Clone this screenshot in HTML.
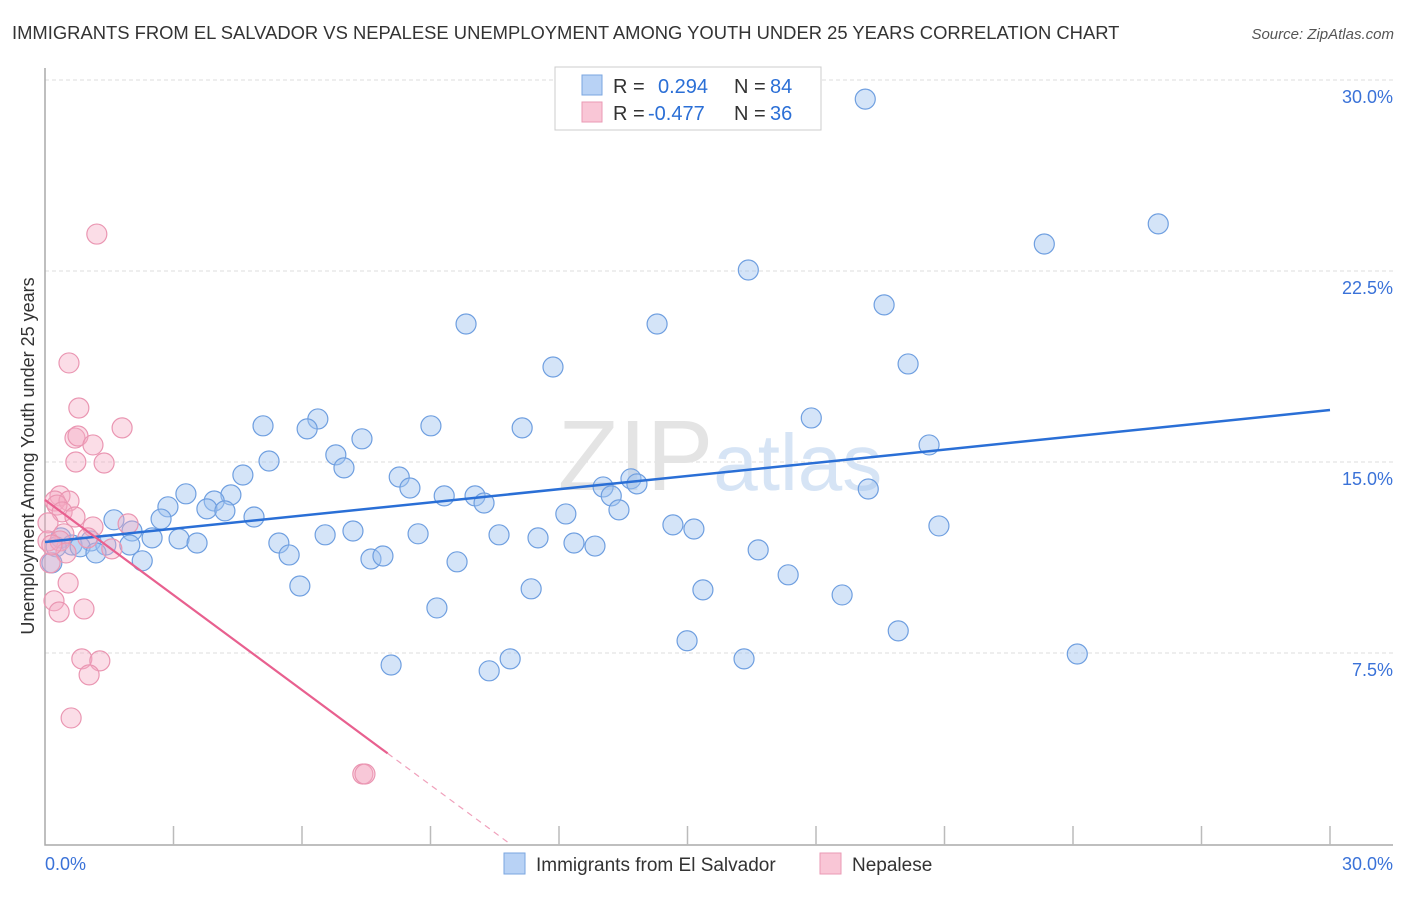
<!DOCTYPE html>
<html><head><meta charset="utf-8"><style>
body{margin:0;background:#fff;font-family:"Liberation Sans",sans-serif;}
svg text{font-family:"Liberation Sans",sans-serif;}
</style></head><body>
<svg id="chart" width="1406" height="892" xmlns="http://www.w3.org/2000/svg">
<text x="12" y="39" font-size="18.4" fill="#333">IMMIGRANTS FROM EL SALVADOR VS NEPALESE UNEMPLOYMENT AMONG YOUTH UNDER 25 YEARS CORRELATION CHART</text>
<text x="1394" y="39" font-size="15" fill="#555" text-anchor="end" font-style="italic">Source: ZipAtlas.com</text>
<g id="grid"></g>
<text x="720" y="490" font-size="100" text-anchor="middle" fill="#e4e4e4" font-family="Liberation Serif">ZIP<tspan fill="#d6e4f5" font-family="Liberation Sans" font-size="80">atlas</tspan></text>
<g id="pts"></g>
<g id="lines"></g>
<text transform="translate(34,456) rotate(-90)" font-size="18" fill="#333" text-anchor="middle">Unemployment Among Youth under 25 years</text>
<g>
<rect x="555" y="67" width="266" height="63" fill="#fff" stroke="#ccc"/>
<rect x="582" y="75" width="20" height="20" fill="#b8d2f5" stroke="#7aa6e0"/>
<rect x="582" y="102" width="20" height="20" fill="#f9c6d6" stroke="#ea9ab4"/>
<text x="613" y="93" font-size="20" fill="#333">R = <tspan fill="#2b6fd6" x="658">0.294</tspan><tspan x="734" fill="#333">N = </tspan><tspan fill="#2b6fd6" x="770">84</tspan></text>
<text x="613" y="120" font-size="20" fill="#333">R = <tspan fill="#2b6fd6" x="648">-0.477</tspan><tspan x="734" fill="#333">N = </tspan><tspan fill="#2b6fd6" x="770">36</tspan></text>
</g>
<g>
<rect x="504" y="853" width="21" height="21" fill="#b8d2f5" stroke="#7aa6e0"/>
<text x="536" y="871" font-size="19" fill="#333">Immigrants from El Salvador</text>
<rect x="820" y="853" width="21" height="21" fill="#f9c6d6" stroke="#ea9ab4"/>
<text x="852" y="871" font-size="19" fill="#333">Nepalese</text>
</g>
</svg>
<script>
const yTicks=[7.5,15,22.5,30];
const yTickLabels=["7.5%","15.0%","22.5%","30.0%"];
const xTickLabels=["0.0%","30.0%"];
const blueX=[19.15,25.99,23.33,16.42,19.59,9.83,14.29,20.15,11.86,17.89,6.37,5.09,9.01,6.12,11.14,7.40,20.64,6.79,5.23,6.98,4.62,8.27,13.68,8.52,13.03,13.82,19.22,3.29,4.34,9.32,10.04,13.22,3.95,2.87,10.25,3.78,4.20,13.40,12.16,4.88,1.61,2.71,14.66,20.87,15.15,2.03,7.19,8.71,6.54,10.60,11.51,2.50,3.13,0.37,1.07,3.55,12.35,12.84,5.46,1.98,1.42,0.63,0.26,0.82,1.19,16.65,5.70,7.61,7.89,2.27,9.62,17.35,5.95,11.35,15.36,18.61,9.15,19.92,14.99,24.10,16.32,10.86,8.08,10.37,0.16];
const blueY=[29.25,24.35,23.56,22.54,21.17,20.42,20.42,18.85,18.73,16.73,16.69,16.42,16.42,16.30,16.34,15.91,15.67,15.28,15.04,14.77,14.49,14.41,14.34,13.98,14.02,14.14,13.94,13.75,13.71,13.67,13.67,13.67,13.47,13.24,13.39,13.16,13.08,13.12,12.96,12.84,12.73,12.76,12.53,12.49,12.37,12.29,12.29,12.18,12.14,12.14,12.02,12.02,11.98,12.02,11.90,11.82,11.82,11.70,11.82,11.74,11.74,11.74,11.67,11.67,11.43,11.55,11.35,11.19,11.31,11.12,11.08,10.57,10.13,10.02,9.98,9.78,9.27,8.37,7.98,7.46,7.27,7.27,7.03,6.80,11.04];
const pinkX=[1.21,0.56,0.79,1.80,0.70,0.77,1.12,0.72,1.38,0.35,0.23,0.56,0.28,0.40,0.70,0.07,1.12,1.94,0.44,1.00,0.07,1.56,0.35,0.49,0.12,0.54,0.21,0.33,0.91,0.86,1.28,1.03,0.61,7.42,7.47,0.16];
const pinkY=[23.95,18.89,17.12,16.34,15.94,16.02,15.67,15.00,14.96,13.67,13.47,13.47,13.31,13.04,12.84,12.61,12.45,12.57,12.18,12.02,11.90,11.59,11.90,11.43,11.04,10.25,9.55,9.11,9.23,7.27,7.19,6.64,4.95,2.75,2.75,11.74];
const blueTrend=[11.86,17.04];
const pinkTrend=[13.51,-1.244];
const NS='http://www.w3.org/2000/svg';
const X0=45,X1=1330,Y0=844,YT=80;
function xs(v){return X0+v/30*(X1-X0);}
function ys(v){return Y0-v/30*(Y0-YT);}
function mk(t,a,p){const e=document.createElementNS(NS,t);for(const k in a)e.setAttribute(k,a[k]);p.appendChild(e);return e;}
const grid=document.getElementById('grid');
yTicks.forEach((t,i)=>{
 const l=mk('line',{x1:X0,x2:1393,y1:ys(t),y2:ys(t),stroke:'#ddd','stroke-dasharray':'4,3'},grid);
 
 
 const tx=mk('text',{x:1393,y:ys(t)+23,'font-size':18,fill:'#3a72d8','text-anchor':'end'},grid);
 tx.textContent=yTickLabels[i];
 
 
});
const ax=mk('path',{d:`M${X0},68V845H1393`,stroke:'#aaa',fill:'none','stroke-width':1.5},grid);


for(let k=1;k<=10;k++){
 const t=mk('line',{x1:xs(k*3),x2:xs(k*3),y1:826,y2:845,stroke:'#bbb','stroke-width':1.5},grid);
 
 
}
[[0,'start',45],[30,'end',1393]].forEach((d,i)=>{
 const tx=mk('text',{x:d[2],y:870,'font-size':18,fill:'#3a72d8','text-anchor':d[1]},grid);
 tx.textContent=xTickLabels[i];
 
 
});
const pts=document.getElementById('pts');
blueX.forEach((x,i)=>{
 const c=mk('circle',{cx:xs(x),cy:ys(blueY[i]),r:10,fill:'rgba(160,195,240,0.45)',stroke:'#6f9fe0','stroke-width':1.2},pts);
 
 
});
pinkX.forEach((x,i)=>{
 const c=mk('circle',{cx:xs(x),cy:ys(pinkY[i]),r:10,fill:'rgba(245,170,195,0.4)',stroke:'#ea96b2','stroke-width':1.2},pts);
 
 
});
const lines=document.getElementById('lines');
const bl=mk('line',{x1:xs(0),y1:ys(blueTrend[0]),x2:xs(30),y2:ys(blueTrend[1]),stroke:'#2a6fd6','stroke-width':2.5},lines);


const pe=8.0, pz=-pinkTrend[0]/pinkTrend[1];
const pl=mk('line',{x1:xs(0),y1:ys(pinkTrend[0]),x2:xs(pe),y2:ys(pinkTrend[0]+pinkTrend[1]*pe),stroke:'#e8608f','stroke-width':2.2},lines);


const pd=mk('line',{x1:xs(pe),y1:ys(pinkTrend[0]+pinkTrend[1]*pe),x2:xs(pz),y2:ys(0),stroke:'#f0a0bb','stroke-width':1.2,'stroke-dasharray':'6,5'},lines);


</script>
</body></html>
